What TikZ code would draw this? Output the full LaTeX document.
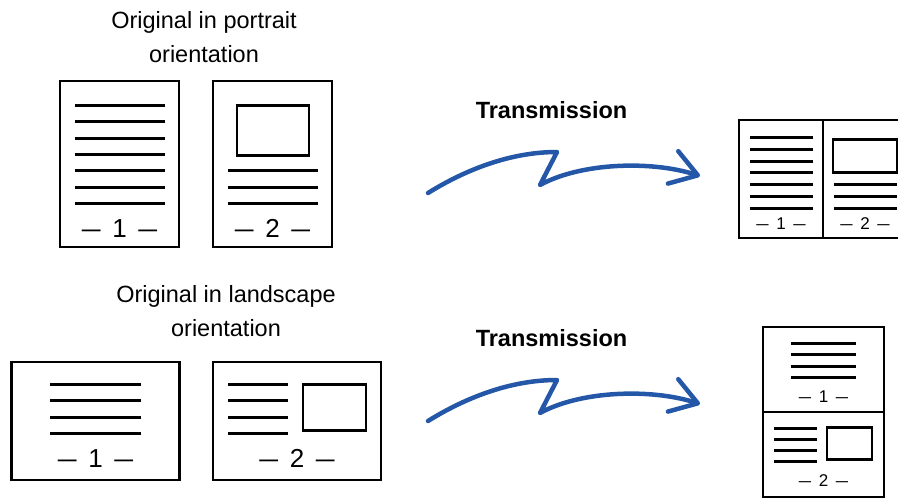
\documentclass[tikz,border=0pt]{standalone}
\usepackage{fontspec}
\setmainfont{Liberation Sans}
\usepackage{graphicx}
\usetikzlibrary{arrows.meta}
\definecolor{arrowblue}{RGB}{36,87,167}
\newcommand{\dsh}{\scalebox{1.3}[1]{–}}
\newcommand{\pgno}[1]{\dsh\hspace{0.45em}#1\hspace{0.45em}\dsh}

\begin{document}
\begin{tikzpicture}[x=1pt, y=-1pt,
  page/.style={draw, line width=2.8pt, inner sep=0pt},
  portrait/.style={page, minimum width=119pt, minimum height=166pt},
  landscape/.style={page, minimum width=168pt, minimum height=118pt},
  txt/.style={line width=2.8pt},
  fold/.style={line width=1.3pt},
  label/.style={font=\fontsize{23.5}{34}\selectfont, align=center, anchor=base, inner sep=0pt},
  bignum/.style={font=\fontsize{26}{30}\selectfont, anchor=base, inner sep=0pt},
  smallnum/.style={font=\fontsize{17}{20}\selectfont, anchor=base, inner sep=0pt},
  arr/.style={-{Straight Barb[length=26pt, width=34pt, round]}, line width=4.5pt,
              line cap=round, line join=round, draw=arrowblue}
]
  \useasboundingbox (0,0) rectangle (898,498);
  \clip (0,0) rectangle (898,498);

  \node[label] (lport) at (204,62) {Original in portrait\\orientation};
  \node[label] (lland) at (226,336) {Original in landscape\\orientation};
  \node[label, font=\fontsize{23.5}{34}\selectfont\bfseries] (tr1) at (551.5,118) {Transmission};
  \node[label, font=\fontsize{23.5}{34}\selectfont\bfseries] (tr2) at (551.5,346) {Transmission};

  % portrait originals
  \node[portrait] (p1) at (119.5,164) {};
  \node[portrait] (p2) at (272.5,164) {};
  \foreach \y in {105.5,121.5,138.5,154.5,170.5,187.5,203.5}
    \draw[txt] (75,\y) -- (165,\y);
  \draw[txt] (237,105.5) rectangle (309,155.5);
  \foreach \y in {170.5,187.5,203.5}
    \draw[txt] (228,\y) -- (318,\y);
  \node[bignum] (n1) at (119.5,237) {\pgno{1}};
  \node[bignum] (n2) at (272.5,237) {\pgno{2}};

  % landscape originals
  \node[landscape] (l1) at (95.5,421) {};
  \node[landscape] (l2) at (297,421) {};
  \foreach \y in {384.5,400.5,417.5,433.5} {
    \draw[txt] (50,\y) -- (141,\y);
    \draw[txt] (228,\y) -- (288,\y);
  }
  \draw[txt] (303,384.5) rectangle (366,430.5);
  \node[bignum] (m1) at (95.5,467) {\pgno{1}};
  \node[bignum] (m2) at (297,467) {\pgno{2}};

  % received, portrait
  \node[landscape] (rtop) at (823,179) {};
  \draw[fold] (rtop.north) -- (rtop.south);
  \foreach \y in {137.5,149.5,161.5,172.5,184.5,196.5,208.5}
    \draw[txt] (750,\y) -- (813,\y);
  \draw[txt] (833,139.5) rectangle (897,172.5);
  \foreach \y in {184.5,196.5,208.5}
    \draw[txt] (834,\y) -- (897,\y);
  \node[smallnum] (r1) at (781,229) {\pgno{1}};
  \node[smallnum] (r2) at (865,229) {\pgno{2}};

  % received, landscape
  \node[portrait, minimum width=121pt, minimum height=170pt] (rbot) at (823.5,412) {};
  \draw[fold] (rbot.west) -- (rbot.east);
  \foreach \y in {343.5,354.5,366.5,377.5}
    \draw[txt] (791,\y) -- (856,\y);
  \foreach \y in {428.5,439.5,450.5,461.5}
    \draw[txt] (774,\y) -- (817,\y);
  \draw[txt] (827,427.5) rectangle (872,459.5);
  \node[smallnum] (s1) at (823.5,402) {\pgno{1}};
  \node[smallnum] (s2) at (823.5,486) {\pgno{2}};

  % transmission arrows
  \coordinate (a1s) at (428,193);
  \coordinate (a1e) at (700,176);
  \coordinate (a2s) at (428,421);
  \coordinate (a2e) at (700,404);
  \draw[arr] (a1s) .. controls (465,170) and (510,152) .. (557,152) -- (540,185)
    .. controls (580,163) and (650,160) .. (a1e);
  \draw[arr] (a2s) .. controls (465,398) and (510,380) .. (557,380) -- (540,413)
    .. controls (580,391) and (650,388) .. (a2e);
\end{tikzpicture}
\end{document}
